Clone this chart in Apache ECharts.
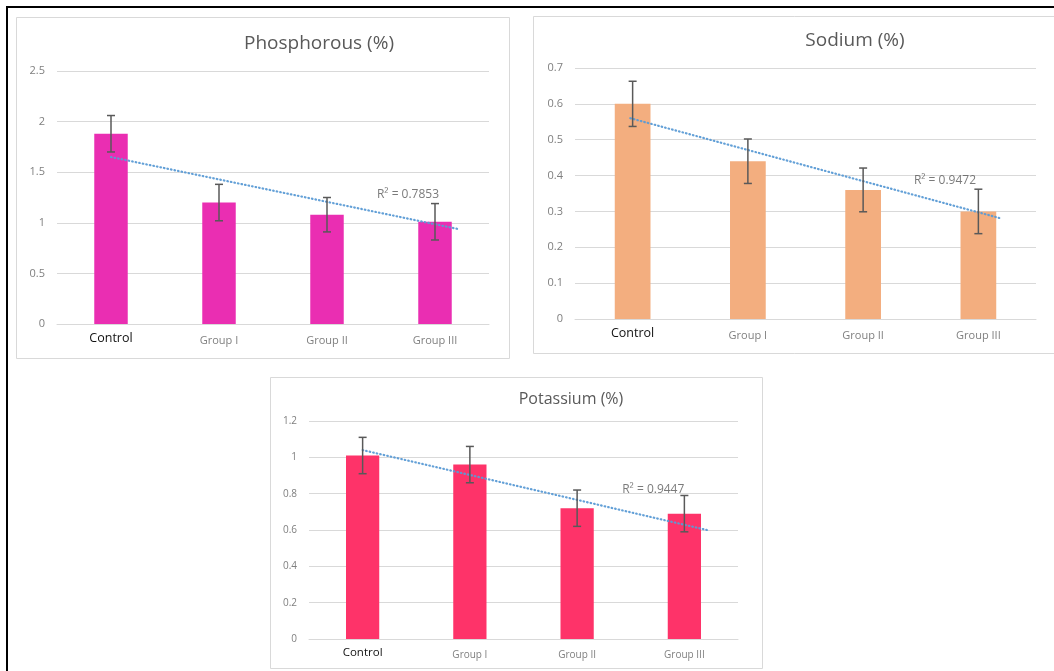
<!DOCTYPE html>
<html>
<head>
<meta charset="utf-8">
<script src="https://cdn.jsdelivr.net/npm/echarts@6/dist/echarts.min.js"></script>
<style>
  html, body { margin: 0; padding: 0; background: #fff; }
  #chart { width: 1054px; height: 671px; }
</style>
</head>
<body>
<div id="chart"></div>
<script>
// Mineral content (%) per treatment group, mean with error bars and linear trend
const categories = ['Control', 'Group I', 'Group II', 'Group III'];

const phosphorous = [1.88, 1.20, 1.08, 1.01];
const phosphorousErr = [0.18, 0.18, 0.17, 0.18];
const phosphorousTrend = [[1.0, 1.65], [4.23, 0.935]];
const phosphorousR2 = 'R² = 0.7853';

const sodium = [0.60, 0.44, 0.36, 0.30];
const sodiumErr = [0.063, 0.062, 0.061, 0.062];
const sodiumTrend = [[0.98, 0.56], [4.19, 0.281]];
const sodiumR2 = 'R² = 0.9472';

const potassium = [1.01, 0.96, 0.72, 0.69];
const potassiumErr = [0.10, 0.10, 0.10, 0.10];
const potassiumTrend = [[1.0, 1.04], [4.21, 0.60]];
const potassiumR2 = 'R² = 0.9447';

const gridGray = '#d9d9d9';
const textGray = '#7f7f7f';
const trendBlue = '#5b9bd5';
const errGray = '#595959';

const panels = [
  {
    title: 'Phosphorous (%)', values: phosphorous, err: phosphorousErr, trend: phosphorousTrend,
    r2: phosphorousR2, r2At: [3.75, 1.28], color: '#ea2eb2',
    grid: { left: 57, right: 565, top: 71, bottom: 347 },
    y: { max: 2.5, interval: 0.5 },
    titlePos: [314, 29], titleSize: 19, box: [16, 17, 493, 341], labelSize: 11
  },
  {
    title: 'Sodium (%)', values: sodium, err: sodiumErr, trend: sodiumTrend,
    r2: sodiumR2, r2At: [3.71, 0.385], color: '#f3ae7f',
    grid: { left: 575, right: 18, top: 68, bottom: 352 },
    y: { max: 0.7, interval: 0.1 },
    titlePos: [850, 26], titleSize: 19, box: [533, 16, 530, 337], labelSize: 11
  },
  {
    title: 'Potassium (%)', values: potassium, err: potassiumErr, trend: potassiumTrend,
    r2: potassiumR2, r2At: [3.71, 0.825], color: '#fe3369',
    grid: { left: 309, right: 316, top: 421, bottom: 32 },
    y: { max: 1.2, interval: 0.2 },
    titlePos: [566, 386], titleSize: 16, box: [270, 377, 492, 291], labelSize: 10
  }
];

const option = {
  animation: false,
  backgroundColor: '#fff',
  title: [],
  grid: [],
  xAxis: [],
  yAxis: [],
  series: [],
  graphic: []
};

// outer frame (top and left edges)
option.graphic.push({
  type: 'polyline', silent: true, z: 100,
  shape: { points: [[7, 671], [7, 7], [1054, 7]] },
  style: { stroke: '#000', lineWidth: 2, fill: null }
});

panels.forEach((p, i) => {
  option.graphic.push({
    type: 'rect', silent: true, z: -1,
    shape: { x: p.box[0] + 0.5, y: p.box[1] + 0.5, width: p.box[2], height: p.box[3] },
    style: { fill: '#fff', stroke: gridGray, lineWidth: 1 }
  });

  option.title.push({
    text: p.title,
    left: p.titlePos[0], top: p.titlePos[1], textAlign: 'center',
    textStyle: { fontFamily: 'Open Sans', fontWeight: 'normal', fontSize: p.titleSize, color: '#595959' }
  });

  option.grid.push(Object.assign({ containLabel: false }, p.grid));

  const catIdx = i * 2;
  const valIdx = i * 2 + 1;

  option.xAxis.push({
    type: 'category', gridIndex: i, data: categories,
    axisLine: { lineStyle: { color: gridGray, width: 1 } },
    axisTick: { show: false },
    axisLabel: {
      margin: 6,
      formatter: (v) => (v === 'Control' ? '{c|' + v + '}' : '{g|' + v + '}'),
      rich: {
        c: { fontFamily: 'Open Sans', fontSize: p.labelSize + 1.5, color: '#111', lineHeight: 16 },
        g: { fontFamily: 'Open Sans', fontSize: p.labelSize, color: textGray, lineHeight: 16, padding: [5, 0, 0, 0] }
      }
    }
  });
  option.xAxis.push({
    type: 'value', gridIndex: i, min: 0.5, max: 4.5, show: false
  });

  option.yAxis.push({
    type: 'value', gridIndex: i, min: 0, max: p.y.max, interval: p.y.interval,
    axisLine: { show: false }, axisTick: { show: false },
    axisLabel: { margin: 12, fontFamily: 'Open Sans', fontSize: p.labelSize, color: textGray },
    splitLine: { lineStyle: { color: gridGray, width: 1 } }
  });

  option.series.push({
    type: 'bar', xAxisIndex: catIdx, yAxisIndex: i,
    data: p.values, barWidth: '31%',
    itemStyle: { color: p.color }, z: 2
  });

  option.series.push({
    type: 'custom', xAxisIndex: catIdx, yAxisIndex: i, z: 4,
    data: p.values.map((v, k) => [k, v - p.err[k], v + p.err[k]]),
    renderItem: (params, api) => {
      const lo = api.coord([api.value(0), api.value(1)]);
      const hi = api.coord([api.value(0), api.value(2)]);
      const half = 4;
      const style = { stroke: errGray, lineWidth: 1.5 };
      return {
        type: 'group',
        children: [
          { type: 'line', shape: { x1: hi[0], y1: hi[1], x2: lo[0], y2: lo[1] }, style },
          { type: 'line', shape: { x1: hi[0] - half, y1: hi[1], x2: hi[0] + half, y2: hi[1] }, style },
          { type: 'line', shape: { x1: lo[0] - half, y1: lo[1], x2: lo[0] + half, y2: lo[1] }, style }
        ]
      };
    }
  });

  option.series.push({
    type: 'line', xAxisIndex: valIdx, yAxisIndex: i, z: 3,
    data: p.trend, symbol: 'none',
    lineStyle: { color: trendBlue, width: 2.2, type: [0.6, 3], cap: 'round', opacity: 0.95 }
  });

  option.series.push({
    type: 'scatter', xAxisIndex: valIdx, yAxisIndex: i, z: 5,
    data: [p.r2At], symbolSize: 0,
    label: {
      show: true, position: 'inside', formatter: p.r2,
      fontFamily: 'Open Sans', fontSize: 12, color: '#595959'
    }
  });
});

const chart = echarts.init(document.getElementById('chart'), null, { renderer: 'canvas' });
chart.setOption(option);
</script>
</body>
</html>
